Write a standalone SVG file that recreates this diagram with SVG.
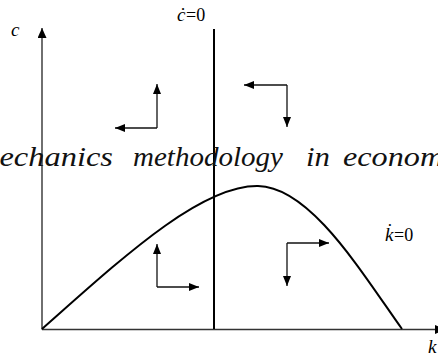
<svg xmlns="http://www.w3.org/2000/svg" width="438" height="362" viewBox="0 0 438 362">
<style>
.ax{stroke:#333;stroke-width:1.4;fill:none}
.ln{stroke:#000;stroke-width:2;fill:none}
.ar{stroke:#111;stroke-width:1.3;fill:none}
.it{font-style:italic;fill:#000}
.rm{font-style:normal;fill:#000}
.wm{font-style:italic;font-size:27px;fill:#111}
</style>
<defs>
<marker id="ah" viewBox="0 0 10 8" refX="10" refY="4" markerWidth="10" markerHeight="8" markerUnits="userSpaceOnUse" orient="auto">
<path d="M0,0 L10,4 L0,8 Z" fill="#000"/>
</marker>
<marker id="axh" viewBox="0 0 10 9" refX="10" refY="4.5" markerWidth="10" markerHeight="9" markerUnits="userSpaceOnUse" orient="auto">
<path d="M0,0 L10,4.5 L0,9 Z" fill="#000"/>
</marker>
</defs>
<g id="axes">
<line class="ax" x1="42" y1="329.5" x2="42" y2="28" marker-end="url(#axh)"/>
<line class="ax" x1="42" y1="329.5" x2="445" y2="329.5" marker-end="url(#axh)"/>
</g>
<g id="connectors">
<line id="cdot-line" class="ln" x1="214" y1="29" x2="214" y2="329"/>
<path id="kdot-curve" class="ln" d="M42,329 C120,260 200,185 258,186 C310,187 360,270 402,329"/>
<g id="arrows-ul"><polyline class="ar" points="157,128 157,84" marker-end="url(#ah)"/><polyline class="ar" points="157,128 115,128" marker-end="url(#ah)"/></g>
<g id="arrows-ur"><polyline class="ar" points="287,85 244,85" marker-end="url(#ah)"/><polyline class="ar" points="287,85 287,127" marker-end="url(#ah)"/></g>
<g id="arrows-ll"><polyline class="ar" points="157,287 157,244" marker-end="url(#ah)"/><polyline class="ar" points="157,287 199,287" marker-end="url(#ah)"/></g>
<g id="arrows-lr"><polyline class="ar" points="287,243 329,243" marker-end="url(#ah)"/><polyline class="ar" points="287,243 287,286" marker-end="url(#ah)"/></g>
</g>
<g font-family="Liberation Serif, serif">
<g id="label-c"><text class="it" x="11" y="36" font-size="19">c</text></g>
<g id="label-cdot"><text class="it" x="177" y="20.5" font-size="19">ċ</text><text class="rm" x="186" y="20.5" font-size="18">=0</text></g>
<g id="label-kdot"><text class="it" x="385" y="241" font-size="19">k̇</text><text class="rm" x="394" y="241" font-size="18">=0</text></g>
<g id="label-k"><text class="it" x="428" y="353" font-size="19">k</text></g>
<g id="watermark">
<text class="wm" x="-24" y="166" textLength="137" lengthAdjust="spacingAndGlyphs">mechanics</text>
<text class="wm" x="133" y="166" textLength="150" lengthAdjust="spacingAndGlyphs">methodology</text>
<text class="wm" x="306" y="166" textLength="24" lengthAdjust="spacingAndGlyphs">in</text>
<text class="wm" x="343" y="166" textLength="136" lengthAdjust="spacingAndGlyphs">economics</text>
</g>
</g>
</svg>
